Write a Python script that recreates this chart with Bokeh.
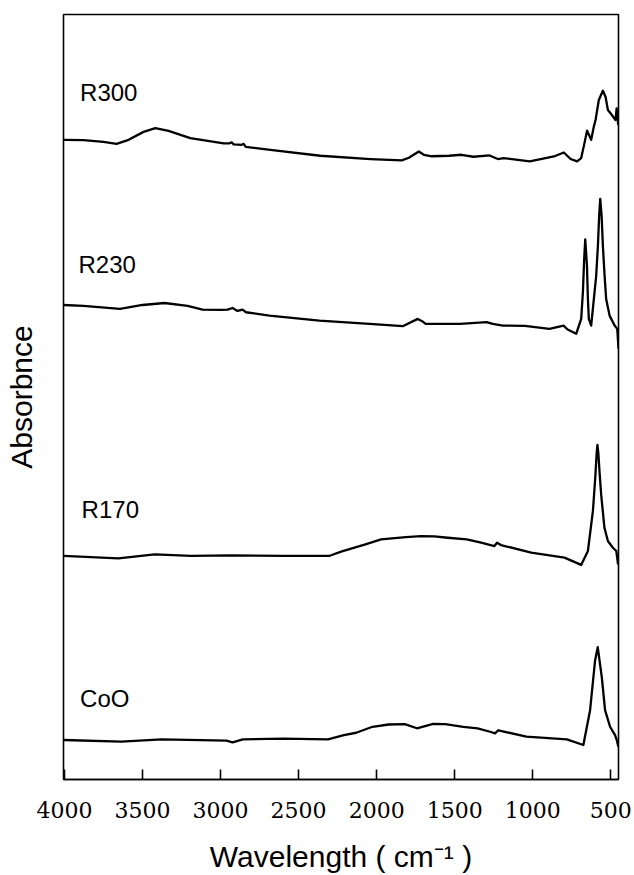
from bokeh.plotting import figure
from bokeh.models import Range1d, FixedTicker, Label
from bokeh.embed import file_html
from bokeh.resources import INLINE

# ---- data ----
series_names = ["R300", "R230", "R170", "CoO"]

r300_wn = [4006, 3878, 3750, 3666, 3589, 3493, 3418, 3333, 3194, 2980,
           2942, 2929, 2916, 2865, 2852, 2839, 2681, 2361, 2040, 1839,
           1794, 1730, 1698, 1647, 1536, 1458, 1380, 1277, 1224, 1186,
           1019, 865, 801, 758, 716, 690, 669, 652, 626, 609,
           598, 577, 551, 534, 519, 502, 470, 463, 453]
r300_ab = [6.43, 6.427, 6.41, 6.39, 6.43, 6.51, 6.547, 6.52, 6.447, 6.395,
           6.395, 6.405, 6.385, 6.38, 6.39, 6.36, 6.33, 6.27, 6.237, 6.223,
           6.25, 6.313, 6.28, 6.265, 6.27, 6.28, 6.26, 6.273, 6.237, 6.247,
           6.213, 6.263, 6.303, 6.237, 6.213, 6.247, 6.397, 6.523, 6.43, 6.563,
           6.63, 6.83, 6.923, 6.863, 6.73, 6.697, 6.63, 6.747, 6.58]

r230_wn = [4006, 3878, 3644, 3500, 3359, 3211, 3115, 2996, 2955, 2923,
           2891, 2859, 2837, 2687, 2367, 2046, 1833, 1737, 1705, 1686,
           1465, 1296, 1256, 1192, 1051, 893, 803, 777, 722, 690,
           679, 671, 664, 653, 647, 641, 626, 594, 583, 575,
           568, 559, 551, 540, 530, 508, 476, 459, 451]
r230_ab = [4.77, 4.76, 4.73, 4.77, 4.79, 4.76, 4.723, 4.72, 4.723, 4.74,
           4.71, 4.723, 4.697, 4.663, 4.613, 4.58, 4.557, 4.63, 4.603, 4.58,
           4.58, 4.597, 4.58, 4.563, 4.56, 4.53, 4.563, 4.523, 4.48, 4.63,
           4.90, 5.23, 5.43, 5.163, 4.83, 4.63, 4.563, 5.063, 5.363, 5.663,
           5.837, 5.663, 5.363, 5.063, 4.83, 4.663, 4.563, 4.53, 4.33]

r170_wn = [4006, 3655, 3422, 3188, 2928, 2591, 2305, 2228, 2072, 1972,
           1813, 1716, 1631, 1545, 1423, 1331, 1246, 1229, 1204, 1010,
           797, 690, 647, 615, 600, 591, 586, 580, 572, 562,
           541, 519, 487, 465, 454]
r170_ab = [2.247, 2.223, 2.263, 2.247, 2.253, 2.247, 2.247, 2.29, 2.363, 2.413,
           2.437, 2.447, 2.443, 2.43, 2.413, 2.38, 2.347, 2.38, 2.357, 2.28,
           2.23, 2.157, 2.297, 2.697, 3.03, 3.28, 3.363, 3.28, 3.08, 2.863,
           2.53, 2.397, 2.33, 2.297, 2.163]

coo_wn = [4006, 3636, 3377, 2962, 2923, 2857, 2598, 2312, 2210, 2131,
          2027, 1923, 1820, 1742, 1638, 1561, 1445, 1353, 1274, 1242,
          1221, 1041, 782, 676, 633, 601, 584, 558, 537, 505,
          473, 462, 452]
coo_ab = [0.397, 0.38, 0.403, 0.39, 0.373, 0.403, 0.41, 0.403, 0.447, 0.47,
          0.53, 0.553, 0.557, 0.515, 0.56, 0.557, 0.53, 0.513, 0.48, 0.463,
          0.495, 0.43, 0.403, 0.347, 0.697, 1.197, 1.33, 1.03, 0.697, 0.53,
          0.447, 0.397, 0.33]

x_ticks = [4000, 3500, 3000, 2500, 2000, 1500, 1000, 500]
x_title = "Wavelength ( cm\u207b\u00b9 )"
y_title = "Absorbnce"

# ---- figure ----
p = figure(width=634, height=875,
           x_range=Range1d(4006, 451), y_range=Range1d(0, 7.69),
           output_backend="svg", toolbar_location=None,
           min_border_left=63, min_border_right=16,
           min_border_top=14, min_border_bottom=92)

p.xgrid.visible = False
p.ygrid.visible = False
p.outline_line_color = "black"
p.outline_line_width = 1.6
p.outline_line_alpha = 1.0
p.background_fill_color = "white"
p.border_fill_color = "white"

ax = p.xaxis[0]
ax.ticker = FixedTicker(ticks=x_ticks)
ax.major_tick_in = 10
ax.major_tick_out = 0
ax.minor_tick_in = 0
ax.minor_tick_out = 0
ax.axis_line_width = 1.6
ax.major_tick_line_width = 1.6
ax.axis_line_color = "black"
ax.major_tick_line_color = "black"
ax.major_label_text_font = "DejaVu Serif"
ax.major_label_text_font_size = "22px"
ax.major_label_text_color = "black"
ax.major_label_standoff = 22
ax.axis_label = x_title
ax.axis_label_text_font = "Liberation Sans"
ax.axis_label_text_font_size = "30px"
ax.axis_label_text_font_style = "normal"
ax.axis_label_text_color = "black"
ax.axis_label_standoff = 19

ay = p.yaxis[0]
ay.ticker = FixedTicker(ticks=[])
ay.major_tick_in = 0
ay.major_tick_out = 0
ay.minor_tick_in = 0
ay.minor_tick_out = 0
ay.major_label_text_font_size = "0px"
ay.axis_line_color = None
ay.axis_label = y_title
ay.axis_label_text_font = "Liberation Sans"
ay.axis_label_text_font_size = "30px"
ay.axis_label_text_font_style = "normal"
ay.axis_label_text_color = "black"
ay.axis_label_standoff = 26

spectra = [(r300_wn, r300_ab), (r230_wn, r230_ab), (r170_wn, r170_ab), (coo_wn, coo_ab)]
for wn, ab in spectra:
    p.line(wn, ab, line_color="black", line_width=2.3, line_join="round")

label_pos = [(3900, 6.903), (3910, 5.18), (3890, 2.71), (3900, 0.81)]
for name, (lx, ly) in zip(series_names, label_pos):
    p.add_layout(Label(x=lx, y=ly, text=name, text_font="Liberation Sans",
                       text_font_size="24px", text_color="black",
                       text_align="left", text_baseline="alphabetic"))

open("out.html", "w").write(file_html(p, INLINE))
